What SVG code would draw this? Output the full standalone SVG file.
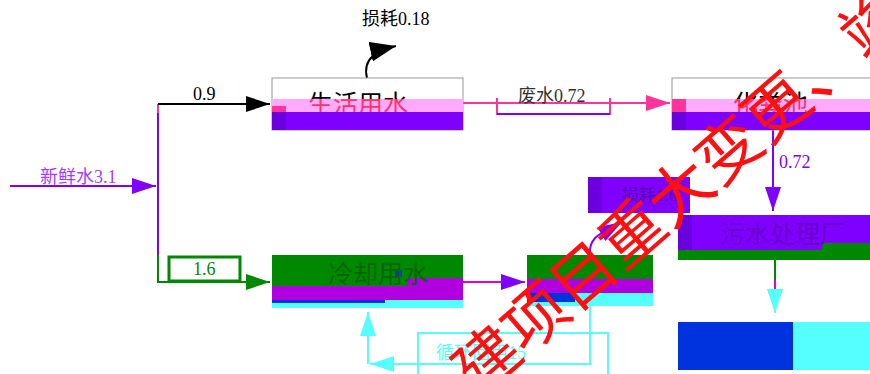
<svg xmlns="http://www.w3.org/2000/svg" width="870" height="374" viewBox="0 0 870 374">
<style>
.t{font-family:"Liberation Serif","Noto Sans CJK SC",serif;}
.lbl{font-size:18px;}
.nd{font-size:25px;}
.wm{font-family:"Noto Sans CJK SC",sans-serif;font-size:64px;fill:#ff1010;}
</style>
<defs>
<marker id="aBlk" markerWidth="24" markerHeight="16" refX="24" refY="8" orient="auto" markerUnits="userSpaceOnUse"><path d="M0,0L24,8L0,16z" fill="#000"/></marker>
<marker id="aBlkL" markerWidth="26" markerHeight="20" refX="26" refY="10" orient="auto" markerUnits="userSpaceOnUse"><path d="M0,0L26,10L0,20z" fill="#000"/></marker>
<marker id="aPur" markerWidth="24" markerHeight="16" refX="24" refY="8" orient="auto" markerUnits="userSpaceOnUse"><path d="M0,0L24,8L0,16z" fill="#8000ff"/></marker>
<marker id="aPink" markerWidth="24" markerHeight="16" refX="24" refY="8" orient="auto" markerUnits="userSpaceOnUse"><path d="M0,0L24,8L0,16z" fill="#ff3399"/></marker>
<marker id="aGrn" markerWidth="24" markerHeight="16" refX="24" refY="8" orient="auto" markerUnits="userSpaceOnUse"><path d="M0,0L24,8L0,16z" fill="#008800"/></marker>
<marker id="aCyan" markerWidth="24" markerHeight="16" refX="24" refY="8" orient="auto" markerUnits="userSpaceOnUse"><path d="M0,0L24,8L0,16z" fill="#55ffff"/></marker>
<clipPath id="c1top"><rect x="272" y="78" width="191" height="21"/></clipPath>
<clipPath id="c1bot"><rect x="272" y="99" width="191" height="13"/></clipPath>
<clipPath id="c2top"><rect x="672" y="78" width="198" height="21"/></clipPath>
<clipPath id="c2bot"><rect x="672" y="99" width="198" height="13"/></clipPath>
</defs>

<g id="connectors" fill="none">
<path d="M10,186H156" stroke="#8000ff" stroke-width="2" marker-end="url(#aPur)"/>
<path d="M158,113V255" stroke="#8000ff" stroke-width="2"/>
<path d="M158,104V113" stroke="#ff3399" stroke-width="2"/>
<path d="M158,255V282H270" stroke="#008800" stroke-width="2" marker-end="url(#aGrn)"/>
<path d="M158,104H270" stroke="#000" stroke-width="2" marker-end="url(#aBlk)"/>
<path d="M367,78C362,58 378,50 396,46" stroke="#000" stroke-width="2" marker-end="url(#aBlkL)"/>
<path d="M463,103H670" stroke="#ff3399" stroke-width="2" marker-end="url(#aPink)"/>
<path d="M773,130V211" stroke="#8000ff" stroke-width="2" marker-end="url(#aPur)"/>
<path d="M775,260V280" stroke="#008800" stroke-width="2"/>
<path d="M775,280V292" stroke="#dd00dd" stroke-width="2"/>
<path d="M768,292H782" stroke="#dd00dd" stroke-width="2"/>
<path d="M775,292V313" stroke="#55ffff" stroke-width="2" marker-end="url(#aCyan)"/>
<path d="M463,282H525" stroke="#dd00dd" stroke-width="2" marker-end="url(#aPur)"/>
<path d="M590,255C588,235 605,232 622,222" stroke="#8000ff" stroke-width="2" marker-end="url(#aPur)"/>
<path d="M590,306V364H370" stroke="#55ffff" stroke-width="2" marker-end="url(#aCyan)"/>
<path d="M368,364V312" stroke="#55ffff" stroke-width="2" marker-end="url(#aCyan)"/>
</g>

<g id="lbl-fresh"><text class="t lbl" x="40" y="183" fill="#a040ff">新鲜水3.1</text></g>
<g id="lbl-09"><text class="t lbl" x="193" y="100" fill="#000">0.9</text></g>
<g id="lbl-loss018"><text class="t lbl" x="362" y="25" fill="#000">损耗0.18</text></g>
<g id="lbl-waste">
<path d="M497,98V114H610V98" fill="none" stroke="#ff3399" stroke-width="2"/>
<path d="M497,114H610" stroke="#8000ff" stroke-width="2"/>
<text class="t lbl" x="518" y="102" fill="#333">废水0.72</text>
</g>
<g id="lbl-072"><text class="t lbl" x="779" y="168" fill="#8000ff">0.72</text></g>
<g id="lbl-16">
<rect x="169" y="257" width="71" height="24" fill="#fff" stroke="#008800" stroke-width="3"/>
<text class="t lbl" x="193" y="275" fill="#008800">1.6</text>
</g>
<g id="lbl-recycle">
<rect x="418" y="333" width="190" height="45" fill="none" stroke="#55ffff" stroke-width="2"/>
<text class="t lbl" x="436" y="359" fill="#55ffff">循环回用15</text>
</g>

<g id="node-domestic">
<rect x="272" y="78" width="191" height="52" fill="#fff" stroke="#999" stroke-width="1"/>
<rect x="272" y="99" width="191" height="13" fill="#ffaaff"/>
<rect x="272" y="112" width="191" height="18" fill="#8000ff"/>
<rect x="272" y="106" width="14" height="6" fill="#ff3399"/>
<rect x="272" y="112" width="14" height="18" fill="#6a00dd"/>
<text class="t nd" x="308" y="113" fill="#000" clip-path="url(#c1top)">生活用水</text>
<text class="t nd" x="308" y="113" fill="#ff3366" clip-path="url(#c1bot)">生活用水</text>
</g>

<g id="node-septic">
<rect x="672" y="78" width="200" height="52" fill="#fff" stroke="#999" stroke-width="1"/>
<rect x="672" y="99" width="200" height="13" fill="#ffaaff"/>
<rect x="672" y="112" width="200" height="18" fill="#8000ff"/>
<rect x="672" y="99" width="14" height="13" fill="#ff3399"/>
<rect x="672" y="112" width="14" height="18" fill="#6a00dd"/>
<text class="t nd" x="733" y="113" fill="#000" clip-path="url(#c2top)">化粪池</text>
<text class="t nd" x="733" y="113" fill="#ff3366" clip-path="url(#c2bot)">化粪池</text>
</g>

<g id="node-loss16">
<rect x="588" y="177" width="102" height="36" fill="#8000ff"/>
<rect x="588" y="177" width="14" height="36" fill="#6a00dd"/>
<text class="t" font-size="17" x="622" y="201" fill="#5a00b0">损耗1.6</text>
</g>

<g id="node-wwtp">
<rect x="678" y="215" width="192" height="45" fill="#8000ff"/>
<rect x="678" y="215" width="14" height="35" fill="#6a00dd"/>
<path d="M678,250H822V243H870V260H678z" fill="#008800"/>
<text class="t nd" x="720" y="243" fill="#6a00cc">污水处理厂</text>
</g>

<g id="node-cooling">
<rect x="272" y="255" width="191" height="53" fill="#55ffff"/>
<rect x="272" y="255" width="191" height="45" fill="#b000e0"/>
<path d="M272,255H463V278H407V286H272z" fill="#008800"/>
<rect x="272" y="300" width="113" height="3" fill="#0033dd"/>
<rect x="395" y="270" width="7" height="7" fill="#0033dd"/>
<text class="t nd" x="328" y="283" fill="#006600">冷却用水</text>
</g>

<g id="node-tower">
<rect x="527" y="255" width="126" height="51" fill="#55ffff"/>
<rect x="527" y="255" width="126" height="38" fill="#b000e0"/>
<rect x="527" y="255" width="126" height="24" fill="#008800"/>
<rect x="527" y="293" width="48" height="9" fill="#0033dd"/>
</g>

<g id="node-discharge">
<rect x="678" y="322" width="192" height="48" fill="#55ffff"/>
<rect x="678" y="322" width="115" height="48" fill="#0033dd"/>
</g>

<g id="watermark">
<text class="wm" transform="translate(478,398) rotate(-41)">建项目重大变更、竣</text>
</g>
</svg>
